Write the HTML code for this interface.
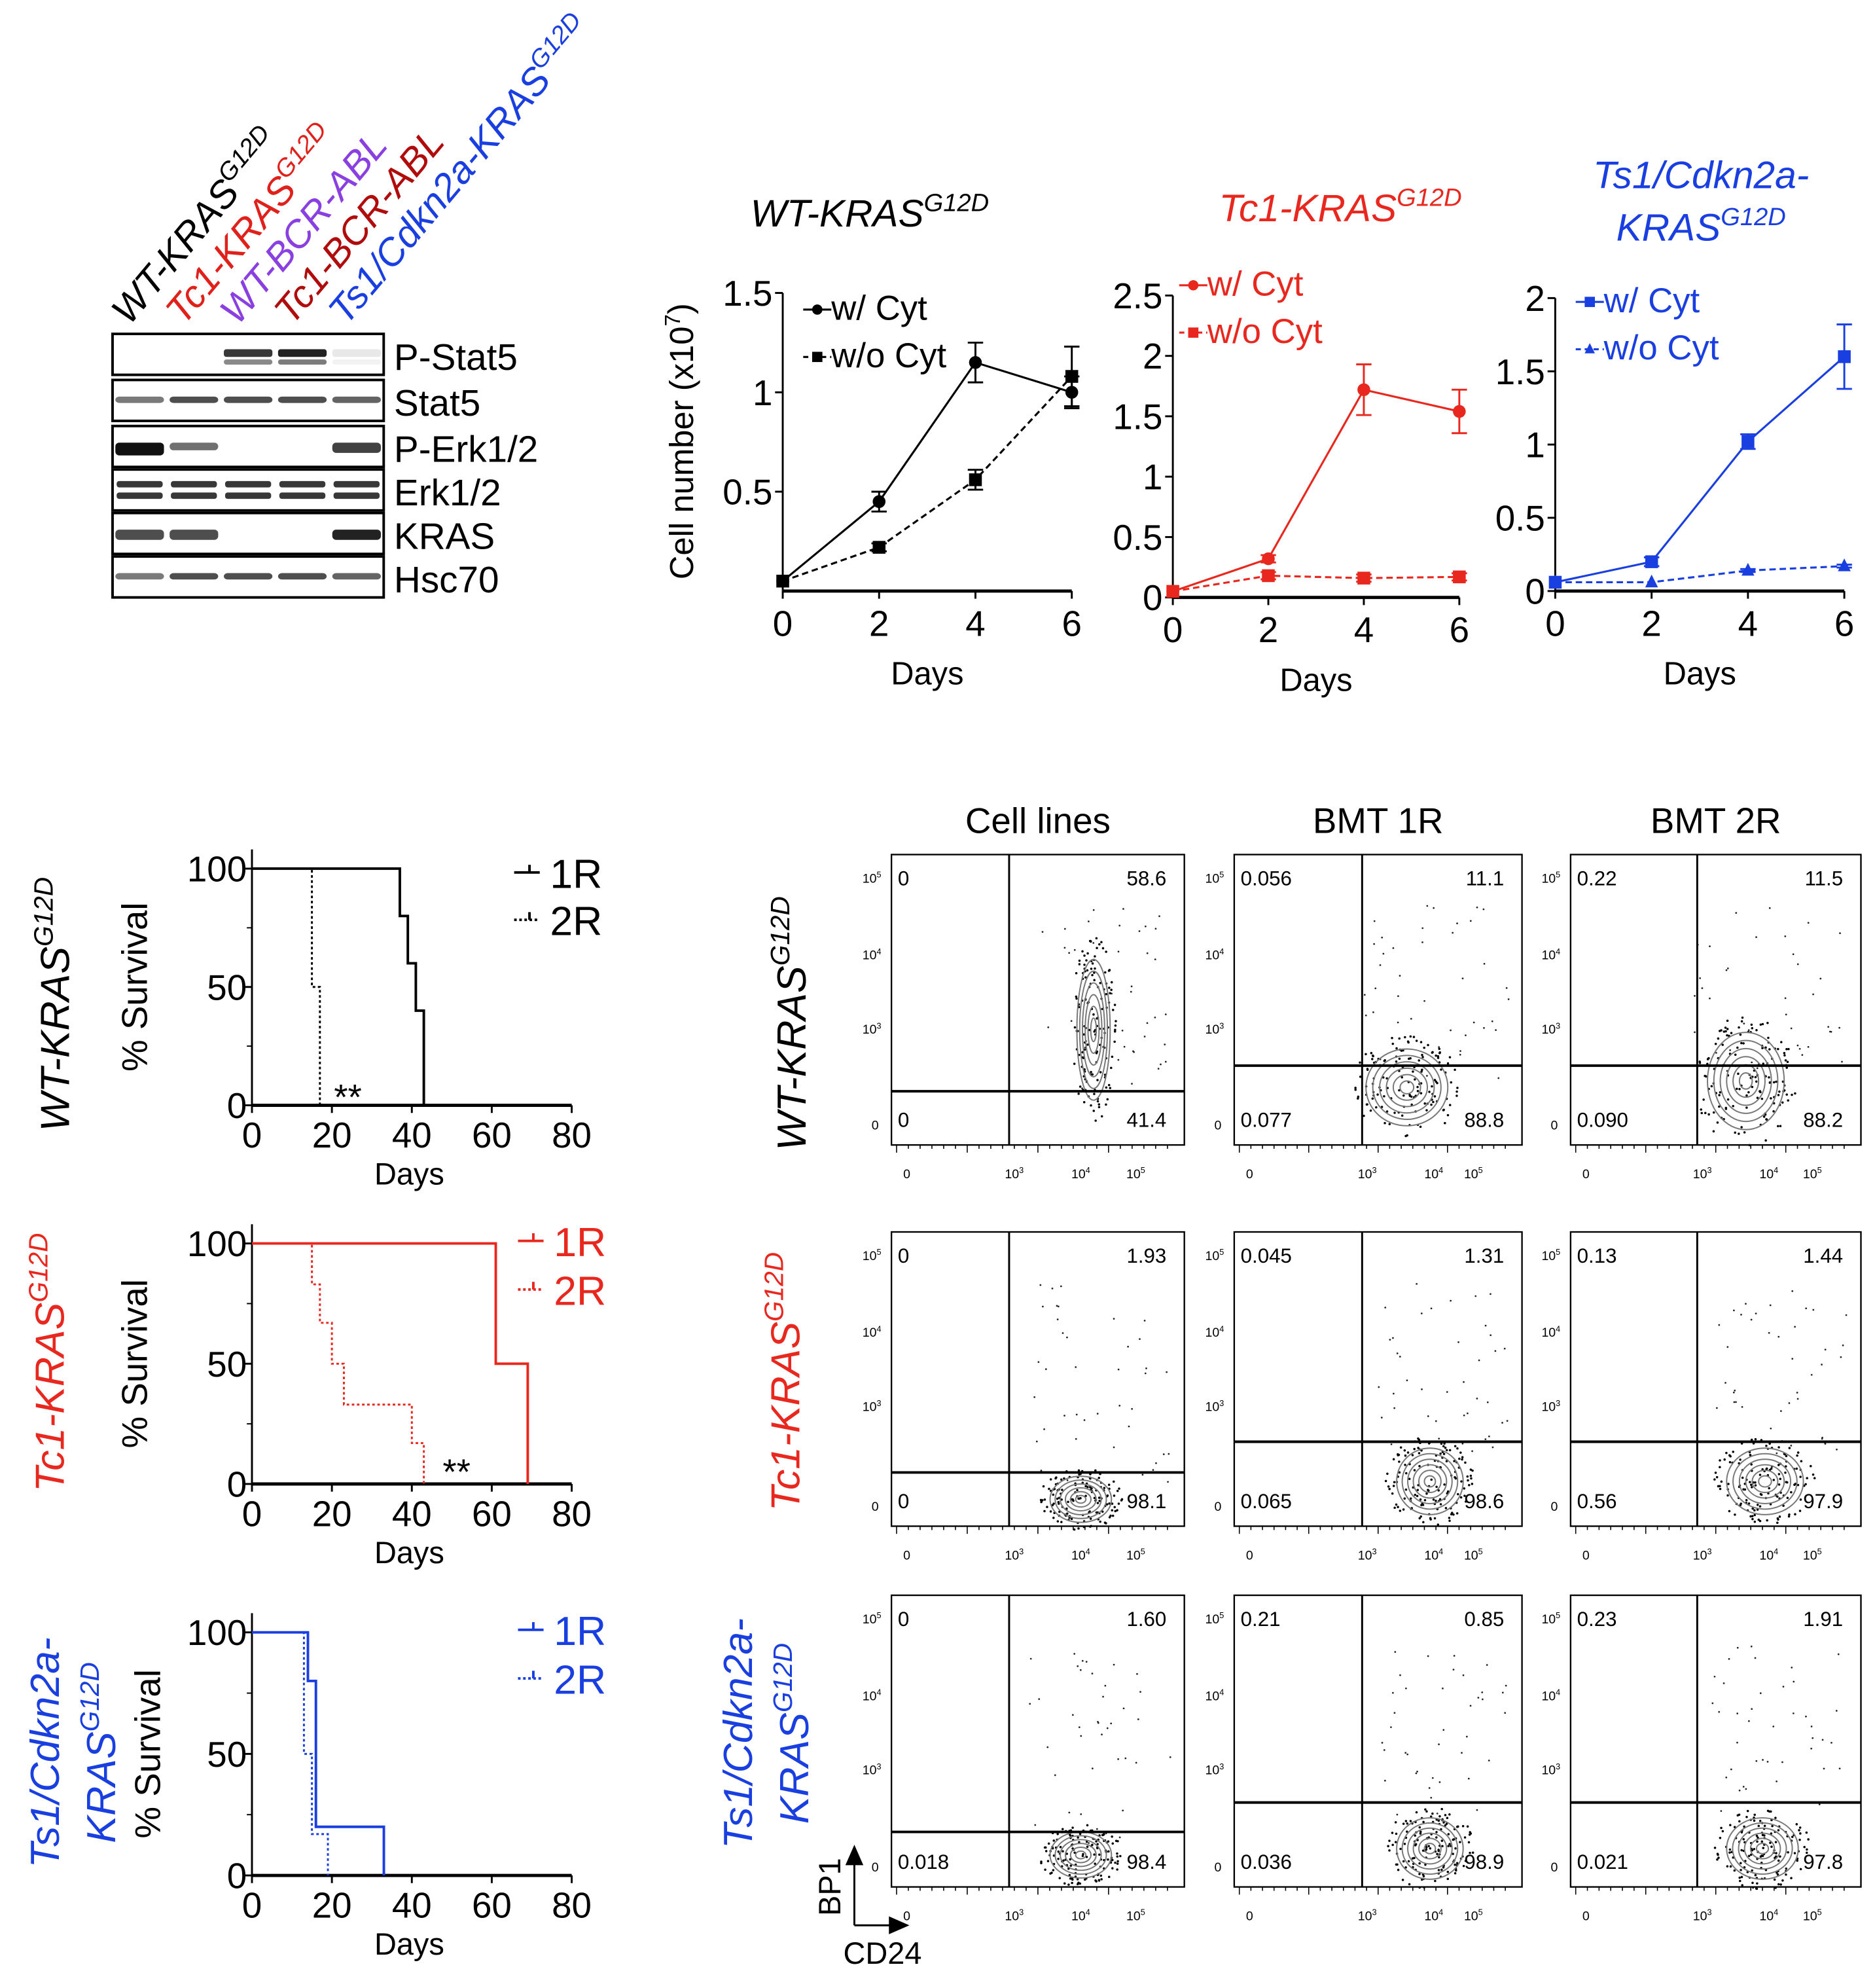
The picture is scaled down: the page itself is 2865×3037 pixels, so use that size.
<!DOCTYPE html>
<html><head><meta charset="utf-8"><style>
html,body{margin:0;padding:0;background:#fff;}
svg{display:block;font-family:"Liberation Sans",sans-serif;}
</style></head><body>
<svg id="fig" width="2865" height="3037" viewBox="0 0 1466 1554" preserveAspectRatio="none" xmlns="http://www.w3.org/2000/svg">
<g id="wb"></g>
<g id="growth"></g>
<g id="surv"></g>
<g id="flow"></g>
</svg>
<script>
// ---------- data ----------
const laneLabels = ["WT-KRAS","Tc1-KRAS","WT-BCR-ABL","Tc1-BCR-ABL","Ts1/Cdkn2a-KRAS"];
const laneSup = ["G12D","G12D","","","G12D"];
const laneColors = ["#000","#e0201a","#8a3fe0","#b00c0c","#1a3fe0"];
const blotRows = ["P-Stat5","Stat5","P-Erk1/2","Erk1/2","KRAS","Hsc70"];
// band intensity per lane (0..1) per row
const blotP_Stat5 = [0,0,0.9,1,0.1];
const blotStat5 = [0.6,0.8,0.8,0.8,0.7];
const blotPErk = [1,0.6,0,0,0.8];
const blotErk = [0.9,0.9,0.9,0.9,0.9];
const blotKRAS = [0.8,0.8,0,0,1];
const blotHsc70 = [0.6,0.8,0.8,0.8,0.7];

const days = [0,2,4,6];
const wtWith = [0.05,0.45,1.15,1.0];
const wtWithErr = [0,0.05,0.1,0.08];
const wtWithout = [0.05,0.22,0.56,1.08];
const wtWithoutErr = [0,0.02,0.05,0.15];
const tcWith = [0.05,0.32,1.72,1.54];
const tcWithErr = [0,0.03,0.21,0.18];
const tcWithout = [0.05,0.18,0.16,0.17];
const tcWithoutErr = [0,0.03,0.03,0.03];
const tsWith = [0.06,0.2,1.02,1.6];
const tsWithErr = [0,0.03,0.05,0.22];
const tsWithout = [0.06,0.06,0.14,0.17];
const tsWithoutErr = [0,0,0.01,0.01];

const survWT1R_t = [0,37,39,41,43];  const survWT1R_s = [100,80,60,40,0];
const survWT2R_t = [0,15,17];        const survWT2R_s = [100,50,0];
const survTc1R_t = [0,61,69];        const survTc1R_s = [100,50,0];
const survTc2R_t = [0,15,17,20,23,40,43]; const survTc2R_s = [100,83,67,50,33,17,0];
const survTs1R_t = [0,14,16,33];     const survTs1R_s = [100,80,20,0];
const survTs2R_t = [0,13,15,19];     const survTs2R_s = [100,50,17,0];
const survTicks = [0,20,40,60,80];
const survYTicks = [0,50,100];

const flowCols = ["Cell lines","BMT 1R","BMT 2R"];
const flowTL = [["0","0.056","0.22"],["0","0.045","0.13"],["0","0.21","0.23"]];
const flowTR = [["58.6","11.1","11.5"],["1.93","1.31","1.44"],["1.60","0.85","1.91"]];
const flowBL = [["0","0.077","0.090"],["0","0.065","0.56"],["0.018","0.036","0.021"]];
const flowBR = [["41.4","88.8","88.2"],["98.1","98.6","97.9"],["98.4","98.9","97.8"]];

// ---------- helpers ----------
const NS="http://www.w3.org/2000/svg";
function el(tag,attrs,parent,txt){const e=document.createElementNS(NS,tag);for(const k in attrs)e.setAttribute(k,attrs[k]);if(txt!==undefined)e.textContent=txt;parent.appendChild(e);return e;}
function supText(parent,x,y,main,sup,size,color,anchor,italic,name){
  const t=el('text',{x:x,y:y,'font-size':size,fill:color,'text-anchor':anchor||'start','font-style':italic?'italic':'normal'},parent);
  
  
  el('tspan',{},t,main);
  if(sup){el('tspan',{dy:-size*0.4,'font-size':size*0.65},t,sup);}
  return t;
}

// ---------- western blot ----------
const wb=document.getElementById('wb');
const bx0=88,bx1=300;
const rowTops=[261,297,333,367,401,435], rowH=32;
const blotData=[blotP_Stat5,blotStat5,blotPErk,blotErk,blotKRAS,blotHsc70];
const laneW=(bx1-bx0)/5;
laneLabels.forEach((l,i)=>{
  const x=bx0+laneW*(i+0.5)-8, y=255;
  const g=el('g',{transform:`translate(${x},${y}) rotate(-50)`},wb);
  supText(g,0,0,l,laneSup[i],30,laneColors[i],'start',true,'lane-label');
});
blotRows.forEach((r,ri)=>{
  const y=rowTops[ri];
  const box=el('rect',{x:bx0,y:y,width:bx1-bx0,height:rowH,fill:'#fff',stroke:'#000','stroke-width':2},wb);
  
  
  blotData[ri].forEach((v,li)=>{
    if(v<=0)return;
    const cx=bx0+laneW*(li+0.5);
    const double=(ri===3||ri===0||ri===2);
    const op=v;
    if(double&&ri===3){
      el('rect',{x:cx-18,y:y+9,width:36,height:5,rx:2,fill:'#222',opacity:op},wb);
      el('rect',{x:cx-18,y:y+18,width:36,height:5,rx:2,fill:'#222',opacity:op},wb);
    }else if(ri===0){
      el('rect',{x:cx-19,y:y+12,width:38,height:6,rx:2,fill:'#222',opacity:op},wb);
      el('rect',{x:cx-19,y:y+20,width:38,height:4,rx:2,fill:'#444',opacity:op*0.7},wb);
    }else if(ri===2){
      el('rect',{x:cx-19,y:y+13,width:38,height:10*v,rx:3,fill:'#111',opacity:op},wb);
    }else{
      el('rect',{x:cx-19,y:y+13,width:38,height:ri===4?8:5,rx:3,fill:'#222',opacity:op},wb);
    }
  });
  const t=el('text',{x:308,y:y+28,'font-size':29,fill:'#000'},wb,r);
  
  
});

// ---------- growth curves ----------
const gr=document.getElementById('growth');
function growthChart(cfg){
  const g=el('g',{},gr);
  
  
  const xs=d=>cfg.x0+(d/6)*(cfg.x1-cfg.x0);
  const ys=v=>cfg.y0-(v/cfg.ymax)*(cfg.y0-cfg.yTop);
  el('line',{x1:cfg.x0,y1:cfg.yTop,x2:cfg.x0,y2:cfg.y0,stroke:'#000','stroke-width':1.5},g);
  el('line',{x1:cfg.x0,y1:cfg.y0,x2:cfg.x1,y2:cfg.y0,stroke:'#000','stroke-width':2.5},g);
  cfg.yticks.forEach((v,i)=>{
    el('line',{x1:cfg.x0-6,y1:ys(v),x2:cfg.x0,y2:ys(v),stroke:'#000','stroke-width':1.5},g);
    const t=el('text',{x:cfg.x0-8,y:ys(v)+10,'font-size':28,'text-anchor':'end'},g,cfg.ylabels[i]);
    
    
  });
  days.forEach(d=>{
    el('line',{x1:xs(d),y1:cfg.y0,x2:xs(d),y2:cfg.y0+6,stroke:'#000','stroke-width':1.5},g);
    const t=el('text',{x:xs(d),y:cfg.y0+35,'font-size':28,'text-anchor':'middle'},g,String(d));
    
    
  });
  const dl=el('text',{x:(cfg.x0+cfg.x1)/2,y:cfg.y0+73,'font-size':25,'text-anchor':'middle'},g,'Days');
  
  
  [[cfg.w,cfg.we,'none',cfg.mk1],[cfg.wo,cfg.woe,'5,3',cfg.mk2]].forEach(([vals,errs,dash,mk],si)=>{
    const pts=days.map((d,i)=>xs(d)+','+ys(vals[i])).join(' ');
    const pl=el('polyline',{points:pts,fill:'none',stroke:cfg.color,'stroke-width':1.6,'stroke-dasharray':dash},g);
    
    
    days.forEach((d,i)=>{
      const x=xs(d),y=ys(vals[i]);
      if(errs[i]>0){
        el('line',{x1:x,y1:ys(vals[i]+errs[i]),x2:x,y2:ys(vals[i]-errs[i]),stroke:cfg.color,'stroke-width':1.5},g);
        el('line',{x1:x-6,y1:ys(vals[i]+errs[i]),x2:x+6,y2:ys(vals[i]+errs[i]),stroke:cfg.color,'stroke-width':1.5},g);
        el('line',{x1:x-6,y1:ys(vals[i]-errs[i]),x2:x+6,y2:ys(vals[i]-errs[i]),stroke:cfg.color,'stroke-width':1.5},g);
      }
      drawMarker(g,mk,x,y,cfg.color);
    });
  });
  // legend
  [[cfg.lx,cfg.ly1,'w/ Cyt','none',cfg.mk1],[cfg.lx,cfg.ly2,'w/o Cyt','4,3',cfg.mk2]].forEach(([x,y,lab,dash,mk])=>{
    el('line',{x1:x,y1:y-8,x2:x+22,y2:y-8,stroke:cfg.color,'stroke-width':1.6,'stroke-dasharray':dash},g);
    drawMarker(g,mk,x+11,y-8,cfg.color,0.8);
    const t=el('text',{x:x+22,y:y,'font-size':27,fill:cfg.color},g,lab);
    
    
  });
}
function drawMarker(g,mk,x,y,c,s){
  s=s||1;
  if(mk==='c')el('circle',{cx:x,cy:y,r:5*s,fill:c},g);
  else if(mk==='s')el('rect',{x:x-5*s,y:y-5*s,width:10*s,height:10*s,fill:c},g);
  else el('polygon',{points:`${x},${y-6*s} ${x-5*s},${y+4*s} ${x+5*s},${y+4*s}`,fill:c},g);
}
growthChart({name:'growth-chart-wt',x0:612,x1:838,y0:462,yTop:229,ymax:1.5,yticks:[0.5,1,1.5],ylabels:['0.5','1','1.5'],w:wtWith,we:wtWithErr,wo:wtWithout,woe:wtWithoutErr,color:'#000',mk1:'c',mk2:'s',lx:628,ly1:250,ly2:287});
growthChart({name:'growth-chart-tc1',x0:917,x1:1141,y0:467,yTop:231,ymax:2.5,yticks:[0,0.5,1,1.5,2,2.5],ylabels:['0','0.5','1','1.5','2','2.5'],w:tcWith,we:tcWithErr,wo:tcWithout,woe:tcWithoutErr,color:'#e8281e',mk1:'c',mk2:'s',lx:922,ly1:231,ly2:268});
growthChart({name:'growth-chart-ts1',x0:1216,x1:1442,y0:462,yTop:233,ymax:2,yticks:[0,0.5,1,1.5,2],ylabels:['0','0.5','1','1.5','2'],w:tsWith,we:tsWithErr,wo:tsWithout,woe:tsWithoutErr,color:'#1a3fe0',mk1:'s',mk2:'t',lx:1232,ly1:244,ly2:281});
// "0" for WT chart
(function(){const t=el('text',{x:604,y:472,'font-size':28,'text-anchor':'end'},gr,'');})();
const yl=el('g',{transform:'translate(542,345) rotate(-90)'},gr);
const ylt=supText(yl,0,0,'Cell number (x10','7',26,'#000','middle',false,'y-axis-title');
el('tspan',{dy:9,'font-size':26},ylt,')');
supText(gr,680,177,'WT-KRAS','G12D',30,'#000','middle',true,'chart-title-wt');
supText(gr,1048,173,'Tc1-KRAS','G12D',30,'#e8281e','middle',true,'chart-title-tc1');
const t3=el('text',{x:1330,y:147,'font-size':30,fill:'#1a3fe0','text-anchor':'middle','font-style':'italic'},gr,'Ts1/Cdkn2a-');


supText(gr,1330,188,'KRAS','G12D',30,'#1a3fe0','middle',true,'chart-title-ts1-line2');

// ---------- survival ----------
const sv=document.getElementById('surv');
function survChart(c){
  const g=el('g',{},sv);
  
  
  const x0=197,x1=447;
  const xs=d=>x0+d/80*(x1-x0);
  const ys=v=>c.y0-v/100*(c.y0-c.yTop);
  el('line',{x1:x0,y1:c.yTop-15,x2:x0,y2:c.y0,stroke:'#000','stroke-width':1.5},g);
  el('line',{x1:x0,y1:c.y0,x2:x1,y2:c.y0,stroke:'#000','stroke-width':2.5},g);
  survYTicks.forEach(v=>{
    el('line',{x1:x0-6,y1:ys(v),x2:x0,y2:ys(v),stroke:'#000','stroke-width':1.5},g);
    const t=el('text',{x:x0-4,y:ys(v)+10,'font-size':28,'text-anchor':'end'},g,String(v));
    
    
  });
  [25,75].forEach(v=>el('line',{x1:x0-4,y1:ys(v),x2:x0,y2:ys(v),stroke:'#000','stroke-width':1},g));
  survTicks.forEach(d=>{
    el('line',{x1:xs(d),y1:c.y0,x2:xs(d),y2:c.y0+6,stroke:'#000','stroke-width':1.5},g);
    const t=el('text',{x:xs(d),y:c.y0+33,'font-size':28,'text-anchor':'middle'},g,String(d));
    
    
  });
  const dl=el('text',{x:320,y:c.y0+62,'font-size':24,'text-anchor':'middle'},g,'Days');
  
  
  const yt=el('text',{transform:`translate(${c.sx},${(c.y0+c.yTop)/2}) rotate(-90)`,'font-size':28,'text-anchor':'middle'},g,'% Survival');
  
  
  [[c.t1,c.s1,'none',2],[c.t2,c.s2,'2,2',1.5]].forEach(([ts,ss,dash,w],k)=>{
    let d=`M${xs(0)},${ys(ss[0])}`;
    for(let i=1;i<ts.length;i++){d+=` H${xs(ts[i])} V${ys(ss[i])}`;}
    const p=el('path',{d:d,fill:'none',stroke:c.color,'stroke-width':w,'stroke-dasharray':dash},g);
    
    
  });
  [[c.ly1,'1R','none'],[c.ly2,'2R','2,2']].forEach(([y,l,dash])=>{
    el('line',{x1:c.lx-28,y1:y-8,x2:c.lx-8,y2:y-8,stroke:c.color,'stroke-width':2,'stroke-dasharray':dash},g);
    el('line',{x1:c.lx-16,y1:y-14,x2:c.lx-16,y2:y-8,stroke:c.color,'stroke-width':2},g);
    const t=el('text',{x:c.lx,y:y+4,'font-size':32,fill:c.color},g,l);
    
    
  });
  if(c.star){const t=el('text',{x:c.star[0],y:c.star[1],'font-size':28,'text-anchor':'middle'},g,'**');
    
    }
}
survChart({name:'survival-wt',y0:864,yTop:679,t1:survWT1R_t,s1:survWT1R_s,t2:survWT2R_t,s2:survWT2R_s,color:'#000',lx:430,ly1:690,ly2:727,star:[272,867],sx:115});
survChart({name:'survival-tc1',y0:1160,yTop:972,t1:survTc1R_t,s1:survTc1R_s,t2:survTc2R_t,s2:survTc2R_s,color:'#e8281e',lx:433,ly1:978,ly2:1016,star:[357,1160],sx:115});
survChart({name:'survival-ts1',y0:1466,yTop:1276,t1:survTs1R_t,s1:survTs1R_s,t2:survTs2R_t,s2:survTs2R_s,color:'#1a3fe0',lx:433,ly1:1282,ly2:1320,sx:125});
(function(){
  let g=el('g',{transform:'translate(54,785) rotate(-90)'},sv);
  supText(g,0,0,'WT-KRAS','G12D',32,'#000','middle',true,'row-label-wt');
  g=el('g',{transform:'translate(50,1065) rotate(-90)'},sv);
  supText(g,0,0,'Tc1-KRAS','G12D',32,'#e8281e','middle',true,'row-label-tc1');
  g=el('g',{transform:'translate(46,1370) rotate(-90)'},sv);
  const t=el('text',{x:0,y:0,'font-size':32,fill:'#1a3fe0','text-anchor':'middle','font-style':'italic'},g,'Ts1/Cdkn2a-');
  
  
  g=el('g',{transform:'translate(90,1370) rotate(-90)'},sv);
  supText(g,0,0,'KRAS','G12D',32,'#1a3fe0','middle',true,'row-label-ts1-line2');
})();

// ---------- flow ----------
const fl=document.getElementById('flow');
const colX=[[697,926],[965,1190],[1228,1455]];
const rowY=[[668,895],[963,1193],[1247,1475]];
const vLines=[789,1065,1327];
const hLines=[[853,833,833],[1151,1127,1127],[1432,1409,1409]];
const blobs=[[[855,805,13,55],[1100,850,32,30],[1365,845,30,38]],[[845,1172,24,18],[1118,1158,26,26],[1380,1158,30,26]],[[845,1450,24,18],[1118,1445,26,24],[1378,1445,28,24]]];
flowCols.forEach((c,i)=>{
  const t=el('text',{x:(colX[i][0]+colX[i][1])/2,y:651,'font-size':28,'text-anchor':'middle'},fl,c);
  
  
});
let seed=7;function rnd(){seed=(seed*16807)%2147483647;return seed/2147483647;}
for(let r=0;r<3;r++)for(let c=0;c<3;c++){
  const [x0,x1]=colX[c],[y0,y1]=rowY[r];
  const g=el('g',{},fl);
  
  
  el('rect',{x:x0,y:y0,width:x1-x0,height:y1-y0,fill:'#fff',stroke:'#000','stroke-width':1.2},g);
  const [bx,by,rx,ry]=blobs[r][c];
  for(let k=0;k<140;k++){const a=rnd()*6.283,d=Math.sqrt(rnd())*1.35;
    el('circle',{cx:bx+Math.cos(a)*rx*d,cy:by+Math.sin(a)*ry*d,r:0.9,fill:'#000'},g);}
  for(let k=0;k<40;k++){el('circle',{cx:bx-40+rnd()*(x1-bx+30),cy:y0+40+rnd()*(hLines[r][c]-y0-30),r:0.7,fill:'#222'},g);}
  for(let k=6;k>=1;k--){el('ellipse',{cx:bx,cy:by,rx:rx*k/6,ry:ry*k/6,fill:'none',stroke:'#777','stroke-width':1},g);}
  el('line',{x1:vLines[c],y1:y0,x2:vLines[c],y2:y1,stroke:'#000','stroke-width':1.5},g);
  el('line',{x1:x0,y1:hLines[r][c],x2:x1,y2:hLines[r][c],stroke:'#000','stroke-width':2},g);
  const fs=16;
  [[x0+5,y0+24,flowTL[r][c],'start'],[x1-14,y0+24,flowTR[r][c],'end'],[x0+5,y1-14,flowBL[r][c],'start'],[x1-14,y1-14,flowBR[r][c],'end']].forEach(([x,y,s,a])=>{
    const t=el('text',{x:x,y:y,'font-size':fs,'text-anchor':a},g,s);
    
    
  });
  // axis tick labels
  const yl=[['10','5',y0+22],['10','4',y0+82],['10','3',y0+140]];
  yl.forEach(([b,e,y])=>supText(g,x0-8,y,b,e,10,'#000','end',false,'y-tick-label'));
  const bt=el('text',{x:x0-10,y:y1-12,'font-size':10,'text-anchor':'end'},g,'0');
  const xl=[['0','',x0+12],['10','3',vLines[c]+4],['10','4',vLines[c]+56],['10','5',x1-38]];
  xl.forEach(([b,e,x])=>supText(g,x,y1+26,b,e,10,'#000','middle',false,'x-tick-label'));
  for(let k=0;k<24;k++){el('line',{x1:x0+4+k*((x1-x0-8)/24),y1:y1,x2:x0+4+k*((x1-x0-8)/24),y2:y1+(k%6===0?6:3),stroke:'#000','stroke-width':0.8},g);}
}
(function(){
  let g=el('g',{transform:'translate(630,800) rotate(-90)'},fl);
  supText(g,0,0,'WT-KRAS','G12D',32,'#000','middle',true,'flow-row-label-wt');
  g=el('g',{transform:'translate(625,1080) rotate(-90)'},fl);
  supText(g,0,0,'Tc1-KRAS','G12D',32,'#e8281e','middle',true,'flow-row-label-tc1');
  g=el('g',{transform:'translate(588,1355) rotate(-90)'},fl);
  const t=el('text',{x:0,y:0,'font-size':32,fill:'#1a3fe0','text-anchor':'middle','font-style':'italic'},g,'Ts1/Cdkn2a-');
  
  
  g=el('g',{transform:'translate(632,1355) rotate(-90)'},fl);
  supText(g,0,0,'KRAS','G12D',32,'#1a3fe0','middle',true,'flow-row-label-ts1-line2');
  el('line',{x1:668,y1:1505,x2:668,y2:1455,stroke:'#000','stroke-width':1.5},fl);
  el('polygon',{points:'668,1442 661,1458 675,1458',fill:'#000'},fl);
  el('line',{x1:668,y1:1505,x2:698,y2:1505,stroke:'#000','stroke-width':1.5},fl);
  el('polygon',{points:'711,1505 695,1498 695,1512',fill:'#000'},fl);
  const b=el('text',{transform:'translate(657,1475) rotate(-90)','font-size':24,'text-anchor':'middle'},fl,'BP1');
  
  
  const cd=el('text',{x:690,y:1535,'font-size':24,'text-anchor':'middle'},fl,'CD24');
  
  
})();
</script>
</body></html>
